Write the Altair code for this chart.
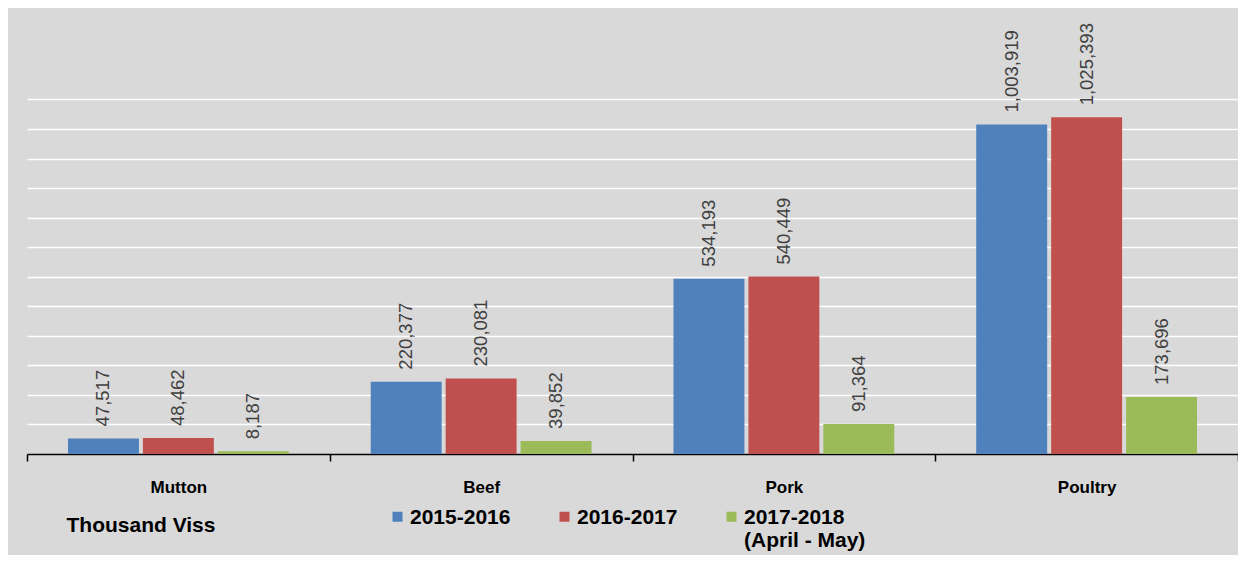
import altair as alt
import pandas as pd

categories = ["Mutton", "Beef", "Pork", "Poultry"]
series = ["2015-2016", "2016-2017", "2017-2018 (April - May)"]
v_2015_2016 = [47517, 220377, 534193, 1003919]
v_2016_2017 = [48462, 230081, 540449, 1025393]
v_2017_2018 = [8187, 39852, 91364, 173696]
colors = ["#4F81BD", "#C0504D", "#9BBB59"]
grid_values = [90000, 180000, 270000, 360000, 450000, 540000,
               630000, 720000, 810000, 900000, 990000, 1080000]

rows = []
for s, vals in zip(series, [v_2015_2016, v_2016_2017, v_2017_2018]):
    for c, v in zip(categories, vals):
        rows.append({"category": c, "series": s, "value": v})
df = pd.DataFrame(rows)

FONT = "Liberation Sans"

x = alt.X(
    "category:N", sort=categories,
    scale=alt.Scale(paddingInner=0, paddingOuter=0),
    axis=alt.Axis(
        title="Thousand Viss", titleAnchor="start", titleAlign="left",
        titleX=39, titleY=77, titleBaseline="alphabetic",
        titleFont=FONT, titleFontSize=21, titleFontWeight="bold", titleColor="#000000",
        labelAngle=0, labelFont=FONT, labelFontSize=17, labelFontWeight="bold",
        labelColor="#000000", labelPadding=31, labelBaseline="alphabetic",
        tickBand="extent", tickSize=7, tickColor="#000000", tickWidth=1.5,
        domainColor="#000000", domainWidth=1.5, grid=False,
    ),
)
xo = alt.XOffset("series:N", sort=series,
                 scale=alt.Scale(paddingInner=0.053, paddingOuter=0.547))
y = alt.Y(
    "value:Q",
    scale=alt.Scale(domain=[0, 1322000], nice=False, zero=True),
    axis=alt.Axis(title=None, labels=False, ticks=False, domain=False, grid=True,
                  gridColor="#ffffff", gridWidth=1.5, values=grid_values),
)
color = alt.Color(
    "series:N", sort=series,
    scale=alt.Scale(domain=series, range=colors),
    legend=alt.Legend(
        title=None, orient="none", legendX=360, legendY=493, direction="horizontal",
        symbolType="M-1,-2.4H1V-0.4H-1Z", symbolSize=100, symbolStrokeWidth=0,
        labelFont=FONT, labelFontSize=21, labelFontWeight="bold", labelColor="#000000",
        labelBaseline="alphabetic", labelOffset=2, columnPadding=43, padding=0,
        labelLimit=0,
        labelExpr="indexof(datum.label, ' (') > 0 ? [substring(datum.label, 0, indexof(datum.label, ' (')), substring(datum.label, indexof(datum.label, ' (') + 1)] : [datum.label, ' ']",
    ),
)

bars = alt.Chart(df).mark_bar().encode(x=x, xOffset=xo, y=y, color=color)
labels = alt.Chart(df).mark_text(
    angle=270, align="left", baseline="middle", dx=12,
    fontSize=18.5, font=FONT, color="#404040",
).encode(x=x, xOffset=xo, y=y, text=alt.Text("value:Q", format=","))

chart = alt.layer(bars, labels).properties(
    width=1211, height=434,
    autosize=alt.AutoSizeParams(type="none"),
    padding={"left": 19, "top": 12, "right": 0, "bottom": 101},
    background="#d9d9d9",
).configure_view(stroke=None)

chart.save("out.html", embed_options={"renderer": "svg", "actions": False})
